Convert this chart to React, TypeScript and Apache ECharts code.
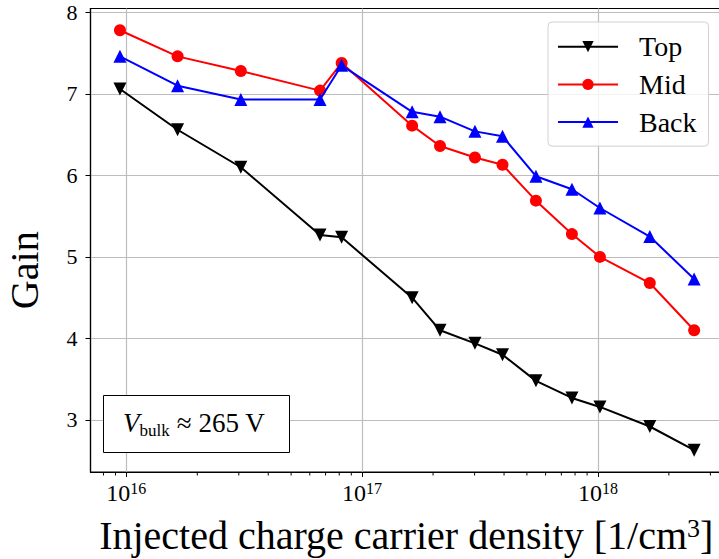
import React, { useEffect, useRef } from "react";
import * as echarts from "echarts";

// ---- data ----
const densities = [9.4e15, 1.65e16, 3.06e16, 6.63e16, 8.19e16, 1.63e17, 2.14e17, 3.01e17, 3.94e17, 5.46e17, 7.76e17, 1.02e18, 1.66e18, 2.56e18];
const gainTop = [7.06, 6.56, 6.10, 5.27, 5.24, 4.5, 4.10, 3.94, 3.80, 3.48, 3.27, 3.16, 2.92, 2.63];
const gainMid = [7.78, 7.46, 7.28, 7.04, 7.38, 6.61, 6.36, 6.22, 6.13, 5.69, 5.28, 5.00, 4.68, 4.10];
const gainBack = [7.46, 7.10, 6.93, 6.93, 7.35, 6.78, 6.72, 6.54, 6.48, 5.99, 5.83, 5.60, 5.25, 4.73];
const seriesNames = ["Top", "Mid", "Back"];
const xMajorTicks = [1e16, 1e17, 1e18];
const xMinorTicks = [8e15, 9e15, 2e16, 3e16, 4e16, 5e16, 6e16, 7e16, 8e16, 9e16, 2e17, 3e17, 4e17, 5e17, 6e17, 7e17, 8e17, 9e17, 2e18, 3e18];
const yTicks = [3, 4, 5, 6, 7, 8];
const xMin = 7.05e15;
const xMax = 3.36e18;
const yMin = 2.362;
const yMax = 8.047;
const annotation = { italic: "V", sub: "bulk", rest: " ≈ 265 V" };

const FONT = "Liberation Serif";

export default function App() {
  const ref = useRef<HTMLDivElement>(null);
  useEffect(() => {
    if (!ref.current) return;
    const chart = echarts.init(ref.current, null, { renderer: "svg" });
    const mk = (vals: number[]) => densities.map((d, i) => [d, vals[i]]);
    const option: any = {
      animation: false,
      backgroundColor: "#fff",
      textStyle: { fontFamily: FONT, color: "#000" },
      grid: {
        left: 90.5,
        top: 8.5,
        right: -3,
        bottom: 87,
        show: true,
        borderColor: "#000",
        borderWidth: 1.2,
        backgroundColor: "transparent",
        outerBoundsMode: "none",
        containLabel: false,
      },
      xAxis: {
        type: "log",
        logBase: 10,
        min: xMin,
        max: xMax,
        name: "{a|Injected charge carrier density [1/cm}{s|3}{a|]}",
        nameLocation: "middle",
        nameGap: 43,
        nameTextStyle: {
          color: "#000",
          fontFamily: FONT,
          fontSize: 40,
          rich: {
            a: { fontFamily: FONT, fontSize: 40, color: "#000", lineHeight: 40 },
            s: { fontFamily: FONT, fontSize: 26, color: "#000", lineHeight: 24, verticalAlign: "top" },
          },
        },
        axisLine: { show: true, lineStyle: { color: "#000", width: 1.2 } },
        axisTick: { show: true, length: 5, lineStyle: { color: "#000", width: 1 }, customValues: xMajorTicks },
        axisLabel: {
          customValues: xMajorTicks,
          margin: 8,
          formatter: (v: number) => `{b|10}{s|${Math.round(Math.log10(v))}}`,
          rich: {
            b: { fontFamily: FONT, fontSize: 24, color: "#000", lineHeight: 26 },
            s: { fontFamily: FONT, fontSize: 16, color: "#000", lineHeight: 12, verticalAlign: "top" },
          },
        },
        splitLine: { show: true, lineStyle: { color: "#bdbdbd", width: 1.2 } },
        minorTick: { show: false },
      },
      yAxis: {
        type: "value",
        min: yMin,
        max: yMax,
        name: "Gain",
        nameLocation: "middle",
        nameGap: 44,
        nameTextStyle: {
          color: "#000",
          fontFamily: FONT,
          fontSize: 40,
          lineHeight: 44,
          padding: [0, 60, 0, 0],
        },
        axisLine: { show: true, lineStyle: { color: "#000", width: 1.2 } },
        axisTick: { show: true, length: 5, lineStyle: { color: "#000", width: 1 }, customValues: yTicks },
        axisLabel: {
          customValues: yTicks,
          margin: 13,
          color: "#000",
          fontFamily: FONT,
          fontSize: 22,
        },
        splitLine: { show: true, lineStyle: { color: "#bdbdbd", width: 1.2 } },
      },
      legend: {
        data: seriesNames,
        orient: "vertical",
        left: 548,
        top: 22,
        padding: [10.7, 12, 10, 9],
        itemWidth: 60,
        itemHeight: 14,
        itemGap: 9.7,
        backgroundColor: "rgba(255,255,255,0.8)",
        borderColor: "#d0d0d0",
        borderWidth: 1,
        borderRadius: 4,
        textStyle: {
          color: "#000",
          fontFamily: FONT,
          fontSize: 28,
          padding: [0, 0, 0, 16],
        },
      },
      graphic: [
        {
          type: "rect",
          left: 103,
          top: 395,
          shape: { width: 186, height: 57 },
          style: { fill: "#fff", stroke: "#000", lineWidth: 1 },
          z: 10,
        },
        {
          type: "text",
          x: 194,
          y: 423,
          z: 11,
          style: {
            text: `{v|${annotation.italic}}{sub|${annotation.sub}}{n|${annotation.rest}}`,
            align: "center",
            verticalAlign: "middle",
            rich: {
              v: { fontFamily: FONT, fontStyle: "italic", fontSize: 27, fill: "#000", lineHeight: 32 },
              sub: { fontFamily: FONT, fontSize: 17, fill: "#000", lineHeight: 12, verticalAlign: "bottom" },
              n: { fontFamily: FONT, fontSize: 27, fill: "#000", lineHeight: 32 },
            },
          },
        },
      ],
      series: [
        {
          name: "Top",
          type: "line",
          data: mk(gainTop),
          symbol: "triangle",
          symbolRotate: 180,
          symbolSize: 13,
          color: "#000",
          lineStyle: { color: "#000", width: 2 },
          itemStyle: { color: "#000" },
          z: 2,
        },
        {
          name: "Mid",
          type: "line",
          data: mk(gainMid),
          symbol: "circle",
          symbolSize: 12,
          color: "#ff0000",
          lineStyle: { color: "#ff0000", width: 2 },
          itemStyle: { color: "#ff0000" },
          z: 3,
        },
        {
          name: "Back",
          type: "line",
          data: mk(gainBack),
          symbol: "triangle",
          symbolSize: 13,
          color: "#0000ff",
          lineStyle: { color: "#0000ff", width: 2 },
          itemStyle: { color: "#0000ff" },
          z: 4,
        },
        {
          name: "minorTicks",
          type: "custom",
          silent: true,
          clip: false,
          data: xMinorTicks.map((v) => [v, yMin]),
          encode: { x: 0, y: 1 },
          renderItem: (_params: any, api: any) => {
            const p = api.coord([api.value(0), api.value(1)]);
            return {
              type: "line",
              shape: { x1: p[0], y1: p[1], x2: p[0], y2: p[1] + 3.5 },
              style: { stroke: "#000", lineWidth: 1 },
            };
          },
          z: 5,
        },
      ],
    };
    chart.setOption(option);
    return () => chart.dispose();
  }, []);
  return (
    <div
      ref={ref}
      style={{ position: "absolute", left: 0, top: 0, width: 719, height: 559, background: "#fff" }}
    />
  );
}
